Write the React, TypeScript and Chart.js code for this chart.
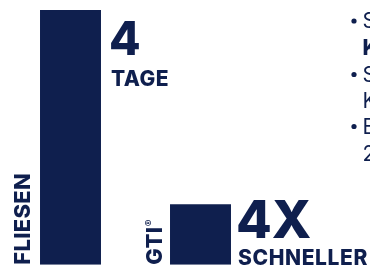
import React, { useEffect, useRef } from "react";
import { Chart, registerables } from "chart.js";

Chart.register(...registerables);

const categories = ["FLIESEN", "GTI"];
const values = [4, 0.95];
const bigLabels = ["4", "4X"];
const smallLabels = ["TAGE", "SCHNELLER"];
const bulletLines = ["S", "K", "S", "K", "E", "2"];
const bulletFlags = [true, false, true, false, true, false];
const bulletBold = [false, true, false, false, false, false];

const NAVY = "#0f1f4e";
const FONT = "Inter, 'Noto Sans', sans-serif";

const labelPlugin = {
  id: "labels",
  afterDatasetsDraw(chart: any) {
    const ctx = chart.ctx as any;
    const meta = chart.getDatasetMeta(0);
    ctx.save();
    ctx.fillStyle = NAVY;
    meta.data.forEach((bar: any, i: number) => {
      const left = bar.x - bar.width / 2;
      const right = bar.x + bar.width / 2;
      const bottom = bar.base;
      const top = bar.y;
      ctx.save();
      ctx.translate(left - (i === 0 ? 10 : 8.5), bottom);
      ctx.rotate(-Math.PI / 2);
      ctx.font = `800 22px ${FONT}`;
      ctx.letterSpacing = "0.3px";
      ctx.textAlign = "left";
      ctx.textBaseline = "alphabetic";
      ctx.fillText(categories[i], 0, 0);
      if (i === 1) {
        const w = ctx.measureText(categories[i]).width;
        ctx.font = `700 10px ${FONT}`;
        ctx.fillText("®", w + 0.5, -9);
      }
      ctx.restore();
      ctx.textAlign = "left";
      ctx.textBaseline = "alphabetic";
      if (i === 0) {
        ctx.letterSpacing = "0px";
        ctx.font = `800 46px ${FONT}`;
        ctx.fillText(bigLabels[i], right + 8, top + 45);
        ctx.letterSpacing = "0.5px";
        ctx.font = `800 21px ${FONT}`;
        ctx.fillText(smallLabels[i], right + 10, top + 76);
      } else {
        ctx.letterSpacing = "0px";
        ctx.font = `800 52px ${FONT}`;
        ctx.fillText(bigLabels[i], right + 5, top + 33.5);
        ctx.letterSpacing = "0.6px";
        ctx.font = `800 21px ${FONT}`;
        ctx.fillText(smallLabels[i], right + 7, bottom);
      }
    });
    ctx.letterSpacing = "0px";
    const baselines = [28, 55, 81.5, 108, 133.5, 161];
    bulletLines.forEach((t, k) => {
      const y = baselines[k];
      if (bulletFlags[k]) {
        ctx.beginPath();
        ctx.arc(354, y - 7, 2.6, 0, Math.PI * 2);
        ctx.fill();
      }
      ctx.font = `${bulletBold[k] ? 800 : 400} 21px ${FONT}`;
      ctx.fillText(t, 362.5, y);
    });
    ctx.restore();
  },
};

export default function App() {
  const ref = useRef<HTMLCanvasElement>(null);
  useEffect(() => {
    if (!ref.current) return;
    const chart = new Chart(ref.current, {
      type: "bar",
      data: {
        labels: categories,
        datasets: [
          {
            data: values,
            backgroundColor: NAVY,
            borderWidth: 0,
            barPercentage: 1,
            categoryPercentage: 0.469,
          },
        ],
      },
      options: {
        responsive: false,
        animation: false,
        layout: { padding: { left: 5.5, right: 104.5, top: 10, bottom: 3.3 } },
        plugins: { legend: { display: false }, tooltip: { enabled: false } },
        scales: {
          x: { display: false, offset: true },
          y: { display: false, min: 0, max: 4 },
        },
      },
      plugins: [labelPlugin],
    });
    return () => chart.destroy();
  }, []);
  return (
    <div style={{ position: "fixed", left: 0, top: 0, width: 370, height: 268, background: "#fff" }}>
      <canvas ref={ref} width={370} height={268} style={{ display: "block" }} />
    </div>
  );
}
